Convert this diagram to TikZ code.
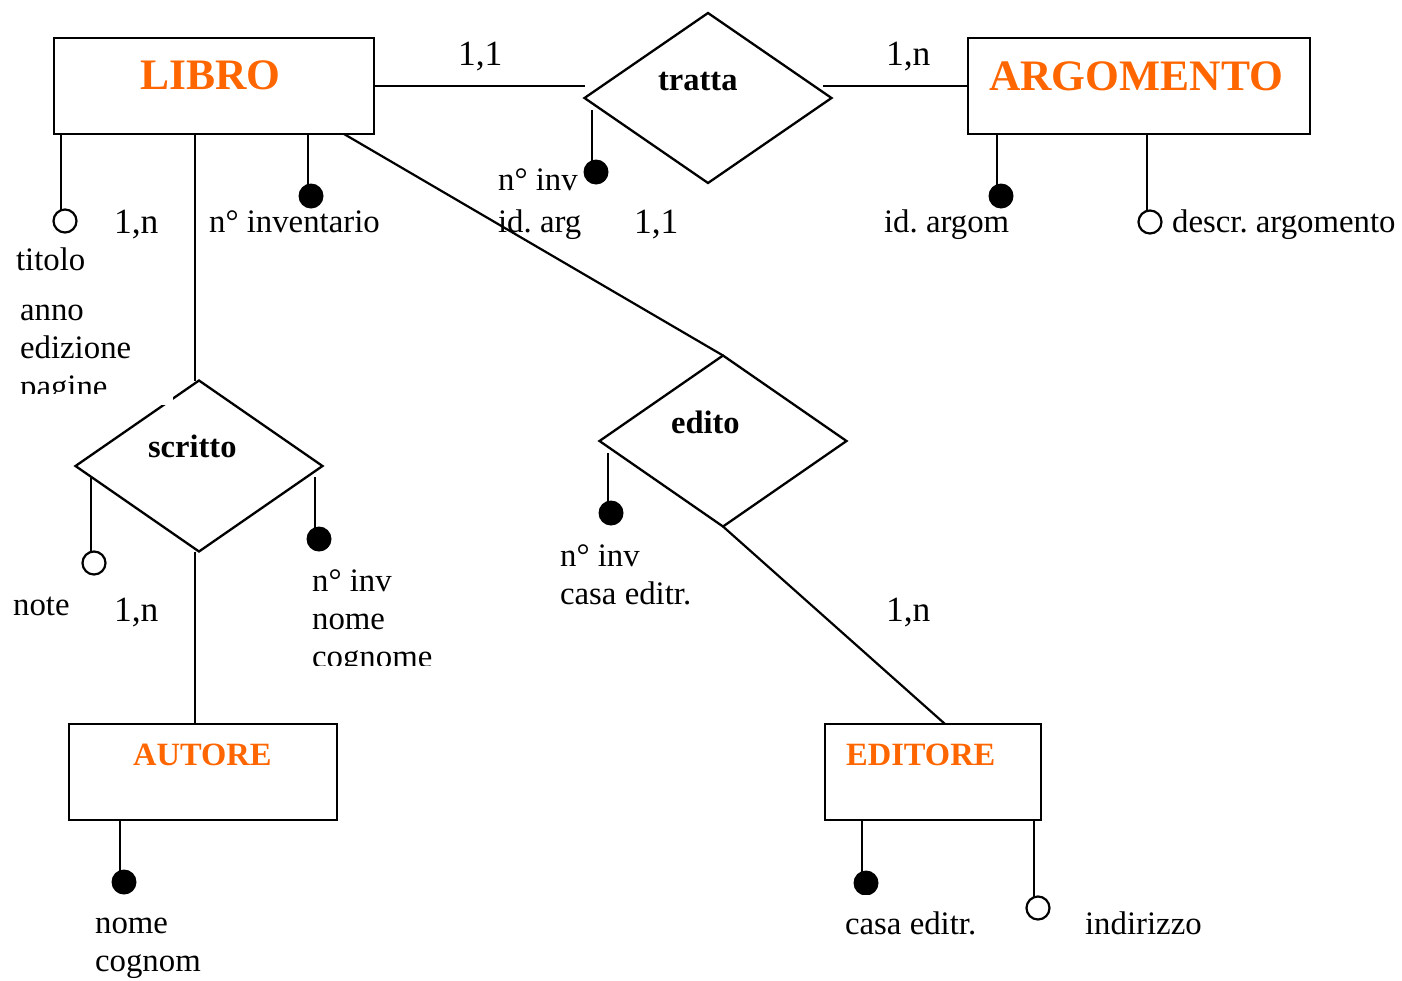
\documentclass[tikz,border=0pt]{standalone}
\usepackage{fontspec}
\setmainfont{Liberation Serif}
\usetikzlibrary{shapes.geometric}
\definecolor{entorange}{HTML}{FF6600}
\frenchspacing
\begin{document}
\begin{tikzpicture}[x=1pt,y=-1pt, line width=2.2pt,
  box/.style={draw, rectangle, line width=2.4pt, inner sep=0pt, outer sep=0pt},
  rhomb/.style={draw, diamond, line width=2.3pt, inner sep=0pt, outer sep=0pt, minimum width=247pt, minimum height=170pt},
  enttext/.style={anchor=base west, inner sep=0pt, text=entorange, font=\bfseries\fontsize{43.5}{50}\selectfont},
  enttextsmall/.style={anchor=base west, inner sep=0pt, text=entorange, font=\bfseries\fontsize{32.5}{38}\selectfont},
  reltext/.style={anchor=base west, inner sep=0pt, font=\bfseries\fontsize{32.5}{38}\selectfont},
  lab/.style={anchor=base west, inner sep=0pt, font=\fontsize{32.8}{38}\selectfont},
  card/.style={anchor=base west, inner sep=0pt, font=\fontsize{35.5}{42}\selectfont},
  opendot/.style={circle, draw, line width=2.2pt, fill=white, minimum size=23pt, inner sep=0pt, outer sep=0pt},
  fulldot/.style={circle, fill=black, minimum size=25pt, inner sep=0pt, outer sep=0pt}]
\useasboundingbox (0,0) rectangle (1402,980);

% entities
\node[box, minimum width=320pt, minimum height=96pt] (libro) at (214,86) {};
\node[box, minimum width=342pt, minimum height=96pt] (argomento) at (1139,86) {};
\node[box, minimum width=268pt, minimum height=96pt] (autore) at (203,772) {};
\node[box, minimum width=216pt, minimum height=96pt] (editore) at (933,772) {};
\node[enttext] (libroT) at (139,89) {LIBRO};
\node[enttext] (argomentoT) at (988,90) {ARGOMENTO};
\node[enttextsmall] (autoreT) at (132,765) {AUTORE};
\node[enttextsmall] (editoreT) at (845,765) {EDITORE};

% relationships
\node[rhomb] (tratta) at (708,98) {};
\node[rhomb, minimum height=171pt] (scritto) at (199,466) {};
\node[rhomb, minimum height=171pt] (edito) at (723,441) {};
\node[reltext] (trattaT) at (657,90) {tratta};
\node[reltext] (scrittoT) at (147,457) {scritto};
\node[reltext] (editoT) at (670,433) {edito};

% connectors
\coordinate (tR) at (823,86);
\coordinate (lS) at (195,134);
\coordinate (lE) at (344,134);
\coordinate (eE) at (945,724);
\draw (libro.east) -- (tratta.west |- libro.east);
\draw (tR) -- (argomento.west);
\draw (lS) -- (lS |- scritto.north);
\draw (lS |- scritto.south) -- (lS |- autore.north);
\draw (lE) -- (edito.north);
\draw (edito.south) -- (eE);

% white patch over scritto edge (text box overlap)
\fill[white] (140,384) rectangle (173,405);

% attributes
\coordinate (a1) at (61,134);
\node[opendot] (d1) at (65,221) {};
\draw (a1) -- (a1 |- d1.north);
\coordinate (a2) at (308,134);
\draw (a2) -- (308,186);
\node[fulldot] (d2) at (311,196) {};
\coordinate (a3) at (592,110);
\draw (a3) -- (592,162);
\node[fulldot] (d3) at (596,172) {};
\coordinate (a4) at (997,134);
\draw (a4) -- (997,186);
\node[fulldot] (d4) at (1001,196) {};
\coordinate (a5) at (1147,134);
\node[opendot] (d5) at (1150,222) {};
\draw (a5) -- (a5 |- d5.north);
\coordinate (a6) at (91,478);
\draw (a6) -- (91,552);
\begin{scope}
\clip (70,540) rectangle (120,575);
\node[opendot] (d6) at (94,563) {};
\end{scope}
\coordinate (a7) at (315,477);
\draw (a7) -- (315,530);
\begin{scope}
\clip (295,510) rectangle (345,552);
\node[fulldot] (d7) at (319,539) {};
\end{scope}
\coordinate (a8) at (608,453);
\draw (a8) -- (608,504);
\begin{scope}
\clip (585,490) rectangle (640,527);
\node[fulldot] (d8) at (611,513) {};
\end{scope}
\coordinate (a9) at (120,820);
\draw (a9) -- (120,872);
\begin{scope}
\clip (100,860) rectangle (150,894);
\node[fulldot] (d9) at (124,882) {};
\end{scope}
\coordinate (a10) at (862,820);
\draw (a10) -- (862,873);
\begin{scope}
\clip (840,860) rectangle (890,894);
\node[fulldot] (d10) at (866,883) {};
\end{scope}
\coordinate (a11) at (1034,820);
\node[opendot] (d11) at (1038,908) {};
\draw (a11) -- (a11 |- d11.north);

% labels
\node[lab] (t1) at (15,270) {titolo};
\node[lab] (t2) at (208,232) {n° inventario};
\node[lab] (t3) at (19,320) {anno};
\node[lab] (t4) at (19,358) {edizione};
\begin{scope}
\clip (0,370) rectangle (180,393);
\node[lab] (t5) at (19,397) {pagine};
\end{scope}
\node[lab] (t6) at (497,190) {n° inv};
\node[lab] (t7) at (497,232) {id. arg};
\node[lab] (t8) at (883,232) {id. argom};
\node[lab] (t9) at (1171,232) {descr. argomento};
\node[lab] (t10) at (12,615) {note};
\node[lab] (t11) at (311,591) {n° inv};
\node[lab] (t12) at (311,629) {nome};
\begin{scope}
\clip (300,640) rectangle (460,665);
\node[lab] (t13) at (311,667) {cognome};
\end{scope}
\node[lab] (t14) at (559,566) {n° inv};
\node[lab] (t15) at (559,604) {casa editr.};
\node[lab] (t16) at (94,933) {nome};
\node[lab] (t17) at (94,971) {cognom};
\node[lab] (t18) at (844,934) {casa editr.};
\node[lab] (t19) at (1084,934) {indirizzo};

% cardinalities
\node[card] (c1) at (457,65) {1,1};
\node[card] (c2) at (885,65) {1,n};
\node[card] (c3) at (113,233) {1,n};
\node[card] (c4) at (633,233) {1,1};
\node[card] (c5) at (113,621) {1,n};
\node[card] (c6) at (885,621) {1,n};
\end{tikzpicture}
\end{document}
